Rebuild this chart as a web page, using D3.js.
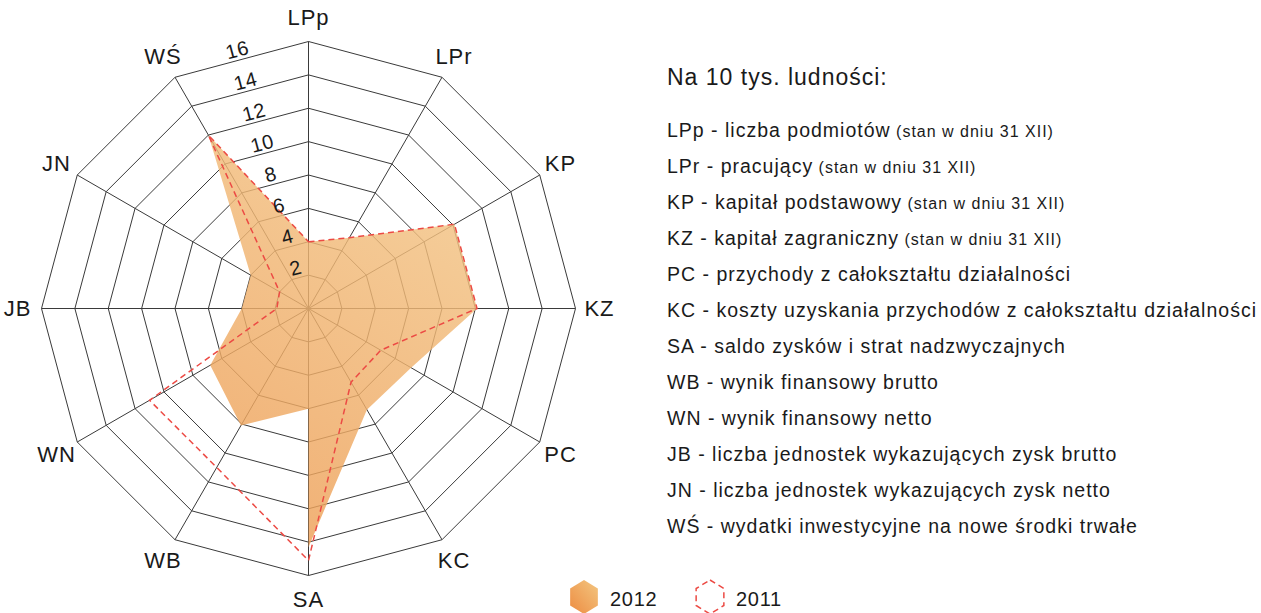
<!DOCTYPE html>
<html>
<head>
<meta charset="utf-8">
<script src="https://cdn.jsdelivr.net/npm/d3@7"></script>
<style>
  body { margin: 0; background: #fff; }
  svg text { fill: #1a1a1a; }
</style>
</head>
<body>
<div id="chart"></div>
<script>
const axes = ["LPp", "LPr", "KP", "KZ", "PC", "KC", "SA", "WB", "WN", "JB", "JN", "WŚ"];
const values2012 = [4.0, 4.9, 10.1, 10.1, 7.1, 7.0, 14.3, 8.1, 6.8, 4.0, 4.0, 12.0];
const values2011 = [4.0, 4.9, 10.1, 10.1, 5.0, 5.1, 15.1, 11.0, 11.0, 1.9, 2.0, 12.0];
// the 2012 area folds back along the SA axis before reaching WB
const notch2012 = ["SA", 6.0];
const ticks = [2, 4, 6, 8, 10, 12, 14, 16];
const legendTitle = "Na 10 tys. ludności:";
const legendItems = [
  ["LPp - liczba podmiotów", "(stan w dniu 31 XII)"],
  ["LPr - pracujący", "(stan w dniu 31 XII)"],
  ["KP - kapitał podstawowy", "(stan w dniu 31 XII)"],
  ["KZ - kapitał zagraniczny", "(stan w dniu 31 XII)"],
  ["PC - przychody z całokształtu działalności", ""],
  ["KC - koszty uzyskania przychodów z całokształtu działalności", ""],
  ["SA - saldo zysków i strat nadzwyczajnych", ""],
  ["WB - wynik finansowy brutto", ""],
  ["WN - wynik finansowy netto", ""],
  ["JB - liczba jednostek wykazujących zysk brutto", ""],
  ["JN - liczba jednostek wykazujących zysk netto", ""],
  ["WŚ - wydatki inwestycyjne na nowe środki trwałe", ""]
];
const years = ["2012", "2011"];

const width = 1261, height = 613;
const cx = 308.5, cy = 308.5, radius = 267;
const font = "'Liberation Sans', Arial, Helvetica, sans-serif";

const svg = d3.select("#chart").append("svg")
  .attr("width", width)
  .attr("height", height)
  .attr("font-family", font);

const defs = svg.append("defs");
const grad = defs.append("linearGradient")
  .attr("id", "orange")
  .attr("gradientUnits", "userSpaceOnUse")
  .attr("x1", 480).attr("y1", 150).attr("x2", 220).attr("y2", 540);
grad.append("stop").attr("offset", 0).attr("stop-color", "#f2c080");
grad.append("stop").attr("offset", 1).attr("stop-color", "#ec9448");

const legGrad = defs.append("linearGradient")
  .attr("id", "orangeLeg")
  .attr("x1", 1).attr("y1", 0).attr("x2", 0).attr("y2", 1);
legGrad.append("stop").attr("offset", 0).attr("stop-color", "#f3c680");
legGrad.append("stop").attr("offset", 1).attr("stop-color", "#ed8c42");

const angle = d3.scalePoint()
  .domain(axes)
  .range([0, 2 * Math.PI * (axes.length - 1) / axes.length]);
const r = d3.scaleLinear().domain([0, 16]).range([0, radius]);

const g = svg.append("g").attr("transform", `translate(${cx},${cy})`);

// rings
const ringLine = d3.lineRadial()
  .angle(d => angle(d))
  .curve(d3.curveLinearClosed);
g.selectAll(".ring")
  .data(ticks)
  .enter()
  .append("path")
  .attr("d", t => ringLine.radius(r(t))(axes))
  .attr("fill", "none")
  .attr("stroke", "#3a3a3a")
  .attr("stroke-width", 1);

// spokes
g.selectAll(".spoke")
  .data(axes)
  .enter()
  .append("line")
  .attr("x1", 0).attr("y1", 0)
  .attr("x2", d => r(16) * Math.sin(angle(d)))
  .attr("y2", d => -r(16) * Math.cos(angle(d)))
  .attr("stroke", "#3a3a3a")
  .attr("stroke-width", 1);

// 2012 area
const pts2012 = axes.map((a, i) => [a, values2012[i]]);
pts2012.splice(axes.indexOf(notch2012[0]) + 1, 0, notch2012);
const area = d3.lineRadial()
  .angle(d => angle(d[0]))
  .radius(d => r(d[1]))
  .curve(d3.curveLinearClosed);
g.append("path")
  .attr("d", area(pts2012))
  .attr("fill", "url(#orange)")
  .attr("fill-opacity", 0.82);

// 2011 dashed line
g.append("path")
  .attr("d", area(axes.map((a, i) => [a, values2011[i]])))
  .attr("fill", "none")
  .attr("stroke", "#ec4a44")
  .attr("stroke-width", 1.5)
  .attr("stroke-dasharray", "6,4");

// tick labels along the LPp - WŚ edge
const a0 = angle("LPp"), a1 = angle("WŚ");
g.selectAll(".tick")
  .data(ticks)
  .enter()
  .append("text")
  .attr("transform", t => {
    const f = 0.5;
    const x = r(t) * ((1 - f) * Math.sin(a0) + f * Math.sin(a1)) - 2;
    const y = -r(t) * ((1 - f) * Math.cos(a0) + f * Math.cos(a1));
    return `translate(${x},${y}) rotate(-15)`;
  })
  .attr("text-anchor", "middle")
  .attr("dy", "-0.15em")
  .style("font-size", "20px")
  .style("letter-spacing", "0.5px")
  .text(t => t);

// axis labels
g.selectAll(".axis-label")
  .data(axes)
  .enter()
  .append("text")
  .attr("x", d => (radius + 24) * Math.sin(angle(d)))
  .attr("y", d => -(radius + 24) * Math.cos(angle(d)))
  .attr("text-anchor", "middle")
  .attr("dominant-baseline", "central")
  .style("font-size", "22px")
  .style("letter-spacing", "1px")
  .text(d => d);

// description legend
svg.append("text")
  .attr("x", 667)
  .attr("y", 85)
  .style("font-size", "23px")
  .style("letter-spacing", "1px")
  .text(legendTitle);

const items = svg.selectAll(".item")
  .data(legendItems)
  .enter()
  .append("text")
  .attr("x", 667)
  .attr("y", (d, i) => 137 + i * 36)
  .style("font-size", "19.5px")
  .style("letter-spacing", "1px");
items.append("tspan").text(d => d[0]);
items.append("tspan")
  .style("font-size", "16px")
  .text(d => d[1] ? " " + d[1] : "");

// year legend
const hex = d3.range(6).map(k => {
  const a = Math.PI / 3 * k;
  return [16 * Math.sin(a), -17 * Math.cos(a)];
});
const hexLine = d3.line().curve(d3.curveLinearClosed);
const yearLeg = svg.selectAll(".year")
  .data(years)
  .enter()
  .append("g")
  .attr("transform", (d, i) => `translate(${584 + i * 126}, 597)`);
yearLeg.append("path")
  .attr("d", hexLine(hex))
  .attr("fill", (d, i) => i === 0 ? "url(#orangeLeg)" : "none")
  .attr("stroke", (d, i) => i === 0 ? "none" : "#ec4a44")
  .attr("stroke-width", 1.5)
  .attr("stroke-dasharray", "6,4");
yearLeg.append("text")
  .attr("x", 26)
  .attr("y", 9)
  .style("font-size", "20px")
  .style("letter-spacing", "0.7px")
  .text(d => d);
</script>
</body>
</html>
